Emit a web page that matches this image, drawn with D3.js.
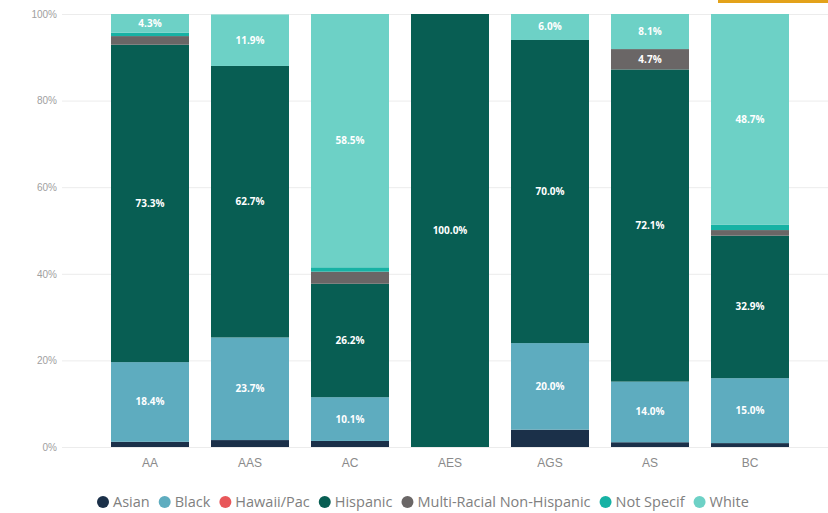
<!DOCTYPE html>
<html>
<head>
<meta charset="utf-8">
<script src="https://cdn.jsdelivr.net/npm/d3@7"></script>
<style>
  body { margin: 0; background: #fff; }
  svg { display: block; font-family: "Open Sans", "Noto Sans", sans-serif; }
</style>
</head>
<body>
<svg id="chart" width="828" height="513"></svg>
<script>
// categories along the x axis
const categories = ["AA", "AAS", "AC", "AES", "AGS", "AS", "BC"];

// share of each group per category (percent)
const asian       = [1.2, 1.6, 1.4, 0, 4.0, 1.1, 0.9];
const black       = [18.4, 23.7, 10.1, 0, 20.0, 14.0, 15.0];
const hawaiiPac   = [0, 0, 0, 0, 0, 0, 0];
const hispanic    = [73.3, 62.7, 26.2, 100.0, 70.0, 72.1, 32.9];
const multiRacial = [2.0, 0, 2.8, 0, 0, 4.7, 1.3];
const notSpecif   = [0.8, 0, 1.0, 0, 0, 0, 1.2];
const white       = [4.3, 11.9, 58.5, 0, 6.0, 8.1, 48.7];

const seriesNames = ["Asian", "Black", "Hawaii/Pac", "Hispanic", "Multi-Racial Non-Hispanic", "Not Specif", "White"];
const seriesValues = [asian, black, hawaiiPac, hispanic, multiRacial, notSpecif, white];
const seriesColors = ["#1b3049", "#5eacbf", "#e8575a", "#085e53", "#6a6666", "#17b2a4", "#6dd1c6"];

const yTicks = [0, 0.2, 0.4, 0.6, 0.8, 1];

const svg = d3.select("#chart");
const width = 828;

// build rows for d3.stack
const rows = categories.map((c, i) => {
  const r = { cat: c };
  seriesNames.forEach((s, j) => { r[s] = seriesValues[j][i] / 100; });
  return r;
});

const stacked = d3.stack().keys(seriesNames)(rows);

const x = d3.scaleBand()
  .domain(categories)
  .range([100, 800])
  .paddingInner(0.22)
  .paddingOuter(0.11);

const y = d3.scaleLinear()
  .domain([0, 1])
  .range([447, 14]);

const color = d3.scaleOrdinal().domain(seriesNames).range(seriesColors);

// y axis with gridlines
const yAxis = svg.append("g")
  .attr("transform", "translate(62,0)")
  .call(d3.axisLeft(y).tickValues(yTicks).tickFormat(d3.format(".0%"))
    .tickSize(-(width - 62)).tickPadding(5));
yAxis.select(".domain").remove();
yAxis.selectAll(".tick line").attr("stroke", "#ececec");
yAxis.selectAll(".tick text").attr("fill", "#a0a0a0").style("font-size", "10px");

// x axis
const xAxis = svg.append("g")
  .attr("transform", "translate(0,447)")
  .call(d3.axisBottom(x).tickSize(0).tickPadding(11));
xAxis.select(".domain").remove();
xAxis.selectAll(".tick text").attr("fill", "#8a8a8a").style("font-size", "12px");

// bars
const layer = svg.append("g").selectAll("g")
  .data(stacked)
  .join("g")
  .attr("fill", d => color(d.key));

layer.selectAll("rect")
  .data(d => d)
  .join("rect")
  .attr("x", d => x(d.data.cat))
  .attr("width", x.bandwidth())
  .attr("y", d => y(d[1]))
  .attr("height", d => Math.max(0, y(d[0]) - y(d[1])));

// data labels
const labels = [];
stacked.forEach(s => {
  s.forEach(d => {
    const v = d[1] - d[0];
    if (v >= 0.042) labels.push({ cat: d.data.cat, v: v, mid: (d[0] + d[1]) / 2 });
  });
});

svg.append("g").selectAll("text")
  .data(labels)
  .join("text")
  .attr("x", d => x(d.cat) + x.bandwidth() / 2)
  .attr("y", d => y(d.mid))
  .attr("dy", "0.35em")
  .attr("text-anchor", "middle")
  .attr("fill", "#fff")
  .style("font-size", "10px")
  .style("font-weight", "bold")
  .text(d => d3.format(".1%")(d.v));

// legend
const legend = svg.append("g").attr("transform", "translate(0,502)");
let lx = 97;
seriesNames.forEach((name, i) => {
  const g = legend.append("g").attr("transform", `translate(${lx},0)`);
  g.append("circle").attr("cx", 6).attr("cy", 0).attr("r", 6).attr("fill", seriesColors[i]);
  const t = g.append("text")
    .attr("x", 16)
    .attr("dy", "0.35em")
    .attr("fill", "#808080")
    .style("font-size", "14.5px")
    .text(name);
  lx += 16 + t.node().getComputedTextLength() + 9;
});

// highlight strip at the top right
svg.append("rect").attr("x", 718).attr("y", 0).attr("width", 110).attr("height", 3).attr("fill", "#e3a21a");
</script>
</body>
</html>
